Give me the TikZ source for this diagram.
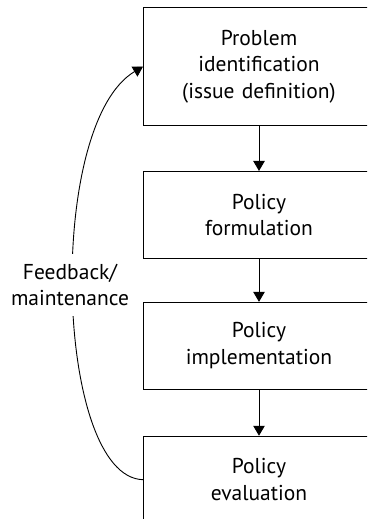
\documentclass[tikz,border=0pt]{standalone}
\usepackage{fontspec}
\setmainfont{PT Sans}
\usetikzlibrary{arrows.meta,positioning}

\begin{document}
\begin{tikzpicture}[
  x=1pt, y=-1pt,
  font=\fontsize{21.5}{26.7}\selectfont,
  stage/.style={draw=black, line width=0.9pt, align=center, text width=210pt,
                minimum width=231pt, minimum height=87pt, inner sep=0pt},
  flowarrow/.style={-{Triangle[width=11.5pt,length=10pt]}, line width=0.9pt}
]
  \clip (0,0) rectangle (367,519);
  \node[stage, minimum height=118pt] (prob) at (259,66.5) {Problem\\identification\\(issue definition)};
  \node[stage, below=45pt of prob] (form) {Policy\\formulation};
  \node[stage, below=43pt of form] (impl) {Policy\\implementation};
  \node[stage, below=46pt of impl] (eval) {Policy\\evaluation};
  \draw[flowarrow] (prob) -- (form);
  \draw[flowarrow] (form) -- (impl);
  \draw[flowarrow] (impl) -- (eval);
  % loop back to the start
  \draw[flowarrow] (eval.west) .. controls (55,477) and (45,125) .. (prob.west);
  \node[fill=white, align=center, inner xsep=1pt, inner ysep=10pt] (fb) at (70,285) {Feedback/\\maintenance};
\end{tikzpicture}
\end{document}
